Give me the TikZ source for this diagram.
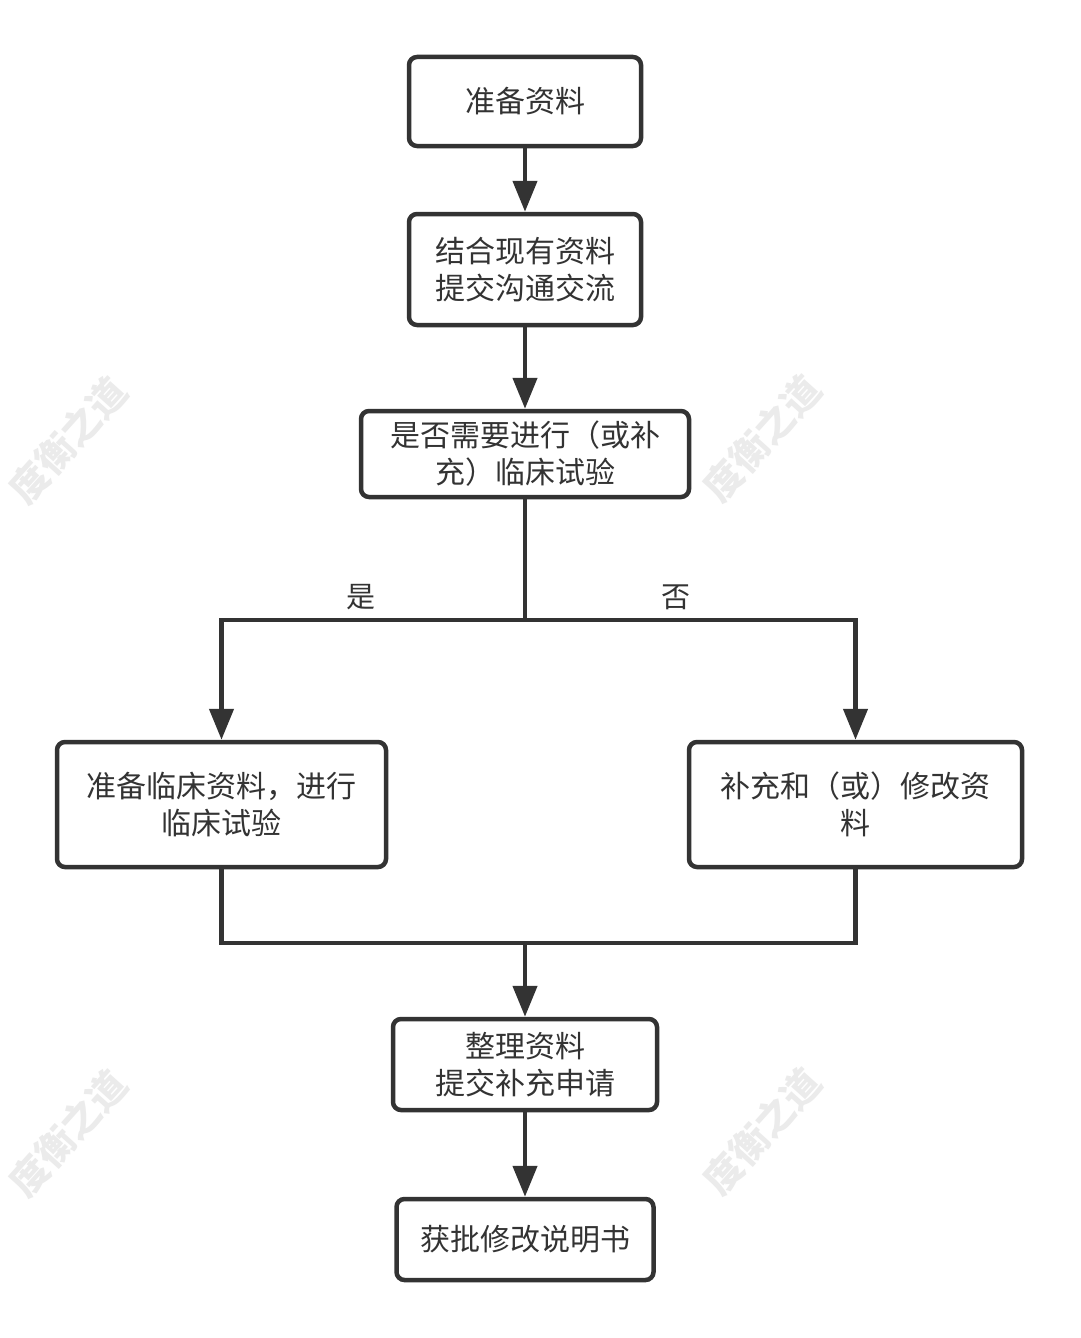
\documentclass[tikz,border=0pt]{standalone}
\usepackage{fontspec}
\setmainfont{Noto Sans CJK SC}
\newfontfamily\cjk{Noto Sans CJK SC}
\usetikzlibrary{arrows.meta}
\definecolor{ink}{HTML}{333333}
\definecolor{wm}{HTML}{EBEBEB}
\tikzset{
  box/.style={draw=ink, line width=4.5pt, rounded corners=8pt, fill=white, align=center,
    text=ink, font=\cjk\fontsize{30}{37}\selectfont, inner sep=0pt},
  conn/.style={draw=ink, line width=4.5pt},
  arr/.style={conn, -{Triangle[length=31pt,width=24pt]}},
  lbl/.style={text=ink, font=\cjk\fontsize{29}{34}\selectfont},
  wmark/.style={text=wm, font=\cjk\fontsize{38}{44}\selectfont\bfseries, rotate=48, inner sep=0pt}
}
\begin{document}
\begin{tikzpicture}[x=1pt,y=-1pt]
\useasboundingbox (0,0) rectangle (1080,1338);
\fill[white] (0,0) rectangle (1080,1338);
% watermarks
\node[wmark] (w1) at (68,440) {度衡之道};
\node[wmark] (w2) at (762,438) {度衡之道};
\node[wmark] (w3) at (68,1133) {度衡之道};
\node[wmark] (w4) at (762,1131) {度衡之道};
% boxes
\node[box, minimum width=232pt, minimum height=89pt] (b1) at (525,101.5) {准备资料};
\node[box, minimum width=232pt, minimum height=111pt] (b2) at (525,269.5) {结合现有资料\\提交沟通交流};
\node[box, minimum width=328pt, minimum height=86pt] (b3) at (525,454) {是否需要进行（或补\\充）临床试验};
\node[box, minimum width=329pt, minimum height=125pt] (b4) at (221.5,804.5) {准备临床资料，进行\\临床试验};
\node[box, minimum width=333pt, minimum height=125pt] (b5) at (855.5,804.5) {补充和（或）修改资\\料};
\node[box, minimum width=264pt, minimum height=91pt] (b6) at (525,1064.5) {整理资料\\提交补充申请};
\node[box, minimum width=257pt, minimum height=81pt] (b7) at (525,1239.5) {获批修改说明书};
\coordinate (split) at (525,620);
\coordinate (merge) at (525,943);
% connectors
\draw[arr] (b1) -- (b2);
\draw[arr] (b2) -- (b3);
\draw[conn] (b3.south) -- (split);
\draw[arr] (split) -| (b4.north);
\draw[arr] (split) -| (b5.north);
\draw[conn] (b4.south) |- (merge);
\draw[conn] (b5.south) |- (merge);
\draw[arr] (merge) -- (b6.north);
\draw[arr] (b6) -- (b7);
\node[lbl] (yes) at (361,597) {是};
\node[lbl] (no) at (676,597) {否};
\end{tikzpicture}
\end{document}
